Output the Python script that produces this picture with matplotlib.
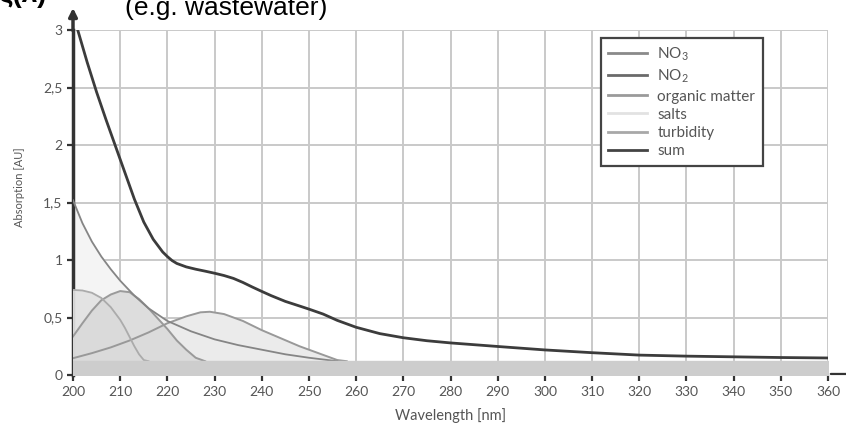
import numpy as np
import matplotlib
matplotlib.use('Agg')
import matplotlib.pyplot as plt

# absorption components
wl_org = [200, 202, 204, 206, 208, 210, 213, 216, 220, 225, 230, 235, 240, 245, 250, 256]
org = [1.52, 1.32, 1.16, 1.03, 0.92, 0.82, 0.69, 0.58, 0.47, 0.38, 0.31, 0.26, 0.22, 0.18, 0.15, 0.12]

wl_salt = [200, 202, 204, 206, 208, 210, 211, 212, 213, 214, 215, 216]
salt = [0.74, 0.735, 0.715, 0.67, 0.59, 0.48, 0.41, 0.33, 0.25, 0.18, 0.13, 0.12]

wl_no3 = [200, 202, 204, 206, 208, 210, 212, 214, 216, 218, 220, 222, 224, 226, 228]
no3 = [0.335, 0.45, 0.56, 0.65, 0.70, 0.73, 0.72, 0.66, 0.58, 0.49, 0.40, 0.30, 0.22, 0.15, 0.12]

wl_no2 = [200, 204, 208, 212, 216, 220, 224, 227, 229, 232, 236, 240, 244, 248, 252, 256, 258]
no2 = [0.146, 0.19, 0.24, 0.30, 0.37, 0.45, 0.51, 0.545, 0.55, 0.53, 0.47, 0.39, 0.32, 0.25, 0.19, 0.13, 0.12]

wl_turb = [200, 360]
turb = [0.125, 0.125]

wl_sum = [201, 203, 205, 207, 209, 211, 213, 215, 217, 219, 220, 221, 222, 224, 226, 228, 230,
          232, 234, 236, 238, 240, 242, 245, 248, 250, 253, 256, 260, 265, 270, 275, 280, 290,
          300, 310, 320, 330, 340, 350, 360]
total = [3.0, 2.72, 2.46, 2.22, 1.99, 1.76, 1.53, 1.33, 1.18, 1.07, 1.03, 0.995, 0.97, 0.94, 0.92,
         0.903, 0.885, 0.865, 0.84, 0.805, 0.765, 0.727, 0.69, 0.64, 0.6, 0.573, 0.53, 0.475,
         0.415, 0.36, 0.324, 0.298, 0.279, 0.248, 0.218, 0.194, 0.173, 0.164, 0.158, 0.152, 0.148]

xticks = list(range(200, 361, 10))
yticks = [0, 0.5, 1, 1.5, 2, 2.5, 3]
ylabels = ['0', '0,5', '1', '1,5', '2', '2,5', '3']

plt.rcParams['font.family'] = ['Lato', 'DejaVu Sans']
plt.rcParams['mathtext.fontset'] = 'custom'
plt.rcParams['mathtext.rm'] = 'Lato'

fig = plt.figure(figsize=(8.46, 4.25), dpi=100)
ax = fig.add_axes([73/846, 50/425, 755/846, 345/425])

ax.set_xlim(200, 360)
ax.set_ylim(0, 3)
ax.set_xticks(xticks)
ax.set_yticks(yticks)
ax.set_yticklabels(ylabels)
ax.grid(True, color='#c9c9c9', lw=1.4, zorder=0)
ax.set_axisbelow(True)

for s in ['top', 'right', 'bottom']:
    ax.spines[s].set_visible(False)
ax.spines['left'].set_color('#333333')
ax.spines['left'].set_linewidth(2.5)
ax.tick_params(direction='out', length=4, width=1.6, color='#333333',
               labelcolor='#555555', labelsize=10)
ax.tick_params(axis='x', pad=4)

# filled components
ax.fill_between(wl_org, org, color='#f4f4f4', zorder=1)
ax.fill_between(wl_no2, no2, color='#ebebeb', zorder=2)
ax.fill_between(wl_salt, salt, color='#e2e2e2', alpha=0.9, zorder=3)
ax.fill_between(wl_no3, no3, color='#d8d8d8', alpha=0.8, zorder=3)
ax.fill_between(wl_turb, turb, color='#cdcdcd', zorder=5)

ax.plot(wl_no3, no3, color='#9a9a9a', lw=1.4, zorder=4)
ax.plot(wl_no2, no2, color='#999999', lw=1.4, zorder=4)
ax.plot(wl_org, org, color='#858585', lw=1.3, zorder=4)
ax.plot(wl_salt, salt, color='#ababab', lw=1.3, zorder=4)
ax.plot(wl_sum, total, color='#3c3c3c', lw=2.0, zorder=6)

handles = [
    plt.Line2D([], [], color='#8a8a8a', lw=2, label='NO$_3$'),
    plt.Line2D([], [], color='#6a6a6a', lw=2, label='NO$_2$'),
    plt.Line2D([], [], color='#9a9a9a', lw=2, label='organic matter'),
    plt.Line2D([], [], color='#e2e2e2', lw=2, label='salts'),
    plt.Line2D([], [], color='#a8a8a8', lw=2, label='turbidity'),
    plt.Line2D([], [], color='#444444', lw=2, label='sum'),
]
leg = ax.legend(handles=handles, loc='upper left', bbox_to_anchor=(0.699, 0.977),
                fontsize=11, handlelength=2.5, handletextpad=0.7, labelspacing=0.28,
                borderpad=0.5, fancybox=False, framealpha=1, borderaxespad=0)
leg.get_frame().set_edgecolor('#444444')
leg.get_frame().set_linewidth(1.6)
for t in leg.get_texts():
    t.set_color('#555555')
leg.set_zorder(10)

# axis arrows
ax.annotate('', xy=(0, 1.072), xytext=(0, 0.99), xycoords='axes fraction',
            arrowprops=dict(arrowstyle='-|>', color='#333333', lw=2.5, mutation_scale=12),
            annotation_clip=False)
ax.annotate('', xy=(1.1, 0.003), xytext=(1.0, 0.003), xycoords='axes fraction',
            arrowprops=dict(arrowstyle='-', color='#333333', lw=1.6),
            annotation_clip=False)

ax.set_xlabel('Wavelength [nm]', color='#555555', fontsize=10.5)
ax.xaxis.set_label_coords(0.5, -0.095)
ax.set_ylabel('Absorption [AU]', color='#555555', fontsize=8)
ax.yaxis.set_label_coords(-0.0636, 0.545)

# cropped header text from the source slide
fig.text(125/846, 1 - 15/425, '(e.g. wastewater)', fontsize=19,
         family='Liberation Sans', color='black', va='baseline')
fig.text(-1/846, 1 - 2/425, 'ς(λ)', fontsize=20, fontweight='bold',
         family='Liberation Sans', color='black', va='baseline')

fig.savefig('out.png', dpi=100)
